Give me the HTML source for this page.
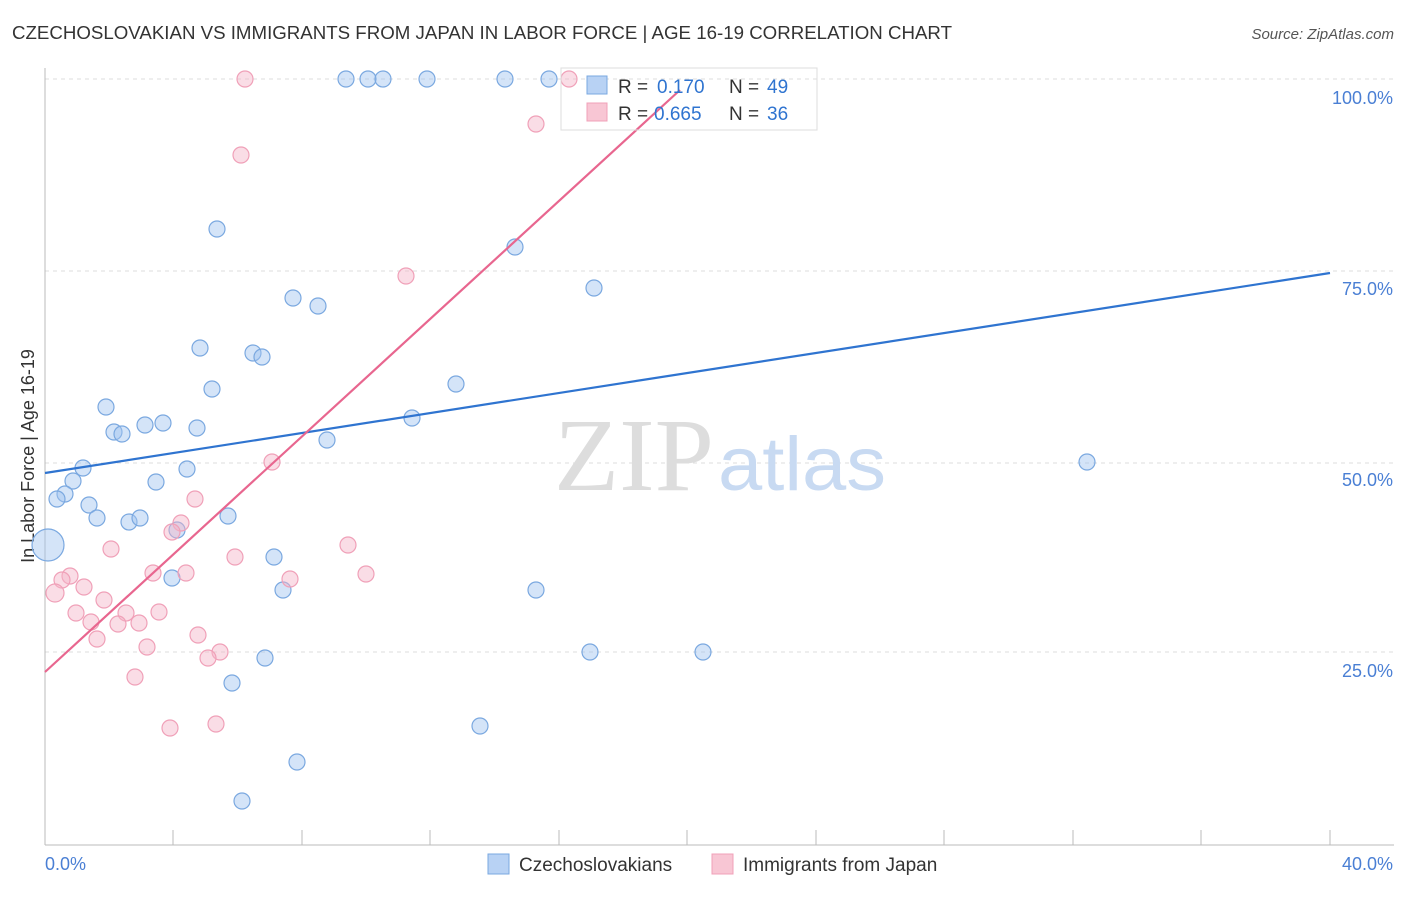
<!DOCTYPE html>
<html><head><meta charset="utf-8"><style>
body{margin:0;background:#fff;font-family:"Liberation Sans",sans-serif;}
</style></head><body>
<svg width="1406" height="892" viewBox="0 0 1406 892" xmlns="http://www.w3.org/2000/svg" font-family="Liberation Sans, sans-serif">
<text x="12" y="39" font-size="18" fill="#333" textLength="940" lengthAdjust="spacingAndGlyphs">CZECHOSLOVAKIAN VS IMMIGRANTS FROM JAPAN IN LABOR FORCE | AGE 16-19 CORRELATION CHART</text>
<text x="1394" y="39" font-size="15" fill="#555" font-style="italic" text-anchor="end">Source: ZipAtlas.com</text>
<g stroke="#ddd" stroke-dasharray="4,4" stroke-width="1">
<line x1="45" y1="79" x2="1394" y2="79"/><line x1="45" y1="271" x2="1394" y2="271"/>
<line x1="45" y1="463" x2="1394" y2="463"/><line x1="45" y1="652" x2="1394" y2="652"/>
</g>
<line x1="45" y1="68" x2="45" y2="845" stroke="#bbb"/>
<line x1="45" y1="845" x2="1394" y2="845" stroke="#bbb"/>
<g stroke="#bbb">
<line x1="173" y1="830" x2="173" y2="845"/><line x1="302" y1="830" x2="302" y2="845"/><line x1="430" y1="830" x2="430" y2="845"/><line x1="559" y1="830" x2="559" y2="845"/><line x1="687" y1="830" x2="687" y2="845"/><line x1="816" y1="830" x2="816" y2="845"/><line x1="944" y1="830" x2="944" y2="845"/><line x1="1073" y1="830" x2="1073" y2="845"/><line x1="1201" y1="830" x2="1201" y2="845"/><line x1="1330" y1="830" x2="1330" y2="845"/>
</g>
<g font-size="18" fill="#4a7fd4" text-anchor="end">
<text x="1393" y="104">100.0%</text><text x="1393" y="295">75.0%</text><text x="1393" y="486">50.0%</text><text x="1393" y="677">25.0%</text>
<text x="1393" y="870">40.0%</text>
</g>
<text x="45" y="870" font-size="18" fill="#4a7fd4">0.0%</text>
<text transform="translate(34,456) rotate(-90)" font-size="18" fill="#333" text-anchor="middle">In Labor Force | Age 16-19</text>
<text x="554" y="490" font-size="104" fill="#ddd" font-family="Liberation Serif, serif" textLength="160" lengthAdjust="spacingAndGlyphs">ZIP</text>
<text x="718" y="490" font-size="76" fill="#c8daf2" textLength="168" lengthAdjust="spacingAndGlyphs">atlas</text>
<g fill="rgba(160,196,240,0.45)" stroke="#7aa8e0" stroke-width="1.2">
<circle cx="48" cy="545" r="16"/>
<circle cx="346" cy="79" r="8"/><circle cx="368" cy="79" r="8"/><circle cx="383" cy="79" r="8"/><circle cx="427" cy="79" r="8"/><circle cx="505" cy="79" r="8"/><circle cx="549" cy="79" r="8"/><circle cx="217" cy="229" r="8"/><circle cx="515" cy="247" r="8"/><circle cx="594" cy="288" r="8"/><circle cx="293" cy="298" r="8"/><circle cx="318" cy="306" r="8"/><circle cx="200" cy="348" r="8"/><circle cx="253" cy="353" r="8"/><circle cx="262" cy="357" r="8"/><circle cx="456" cy="384" r="8"/><circle cx="212" cy="389" r="8"/><circle cx="106" cy="407" r="8"/><circle cx="412" cy="418" r="8"/><circle cx="145" cy="425" r="8"/><circle cx="163" cy="423" r="8"/><circle cx="197" cy="428" r="8"/><circle cx="114" cy="432" r="8"/><circle cx="122" cy="434" r="8"/><circle cx="327" cy="440" r="8"/><circle cx="83" cy="468" r="8"/><circle cx="187" cy="469" r="8"/><circle cx="1087" cy="462" r="8"/><circle cx="73" cy="481" r="8"/><circle cx="156" cy="482" r="8"/><circle cx="65" cy="494" r="8"/><circle cx="57" cy="499" r="8"/><circle cx="89" cy="505" r="8"/><circle cx="97" cy="518" r="8"/><circle cx="129" cy="522" r="8"/><circle cx="140" cy="518" r="8"/><circle cx="228" cy="516" r="8"/><circle cx="177" cy="530" r="8"/><circle cx="274" cy="557" r="8"/><circle cx="172" cy="578" r="8"/><circle cx="283" cy="590" r="8"/><circle cx="536" cy="590" r="8"/><circle cx="590" cy="652" r="8"/><circle cx="703" cy="652" r="8"/><circle cx="265" cy="658" r="8"/><circle cx="232" cy="683" r="8"/><circle cx="480" cy="726" r="8"/><circle cx="297" cy="762" r="8"/><circle cx="242" cy="801" r="8"/>
</g>
<g fill="rgba(245,180,200,0.45)" stroke="#f0a0b8" stroke-width="1.2">
<circle cx="245" cy="79" r="8"/><circle cx="569" cy="79" r="8"/><circle cx="536" cy="124" r="8"/><circle cx="241" cy="155" r="8"/><circle cx="406" cy="276" r="8"/><circle cx="272" cy="462" r="8"/><circle cx="195" cy="499" r="8"/><circle cx="181" cy="523" r="8"/><circle cx="172" cy="532" r="8"/><circle cx="111" cy="549" r="8"/><circle cx="348" cy="545" r="8"/><circle cx="235" cy="557" r="8"/><circle cx="153" cy="573" r="8"/><circle cx="186" cy="573" r="8"/><circle cx="366" cy="574" r="8"/><circle cx="290" cy="579" r="8"/><circle cx="70" cy="576" r="8"/><circle cx="62" cy="580" r="8"/><circle cx="84" cy="587" r="8"/><circle cx="55" cy="593" r="9"/><circle cx="104" cy="600" r="8"/><circle cx="76" cy="613" r="8"/><circle cx="126" cy="613" r="8"/><circle cx="159" cy="612" r="8"/><circle cx="91" cy="622" r="8"/><circle cx="118" cy="624" r="8"/><circle cx="139" cy="623" r="8"/><circle cx="198" cy="635" r="8"/><circle cx="97" cy="639" r="8"/><circle cx="147" cy="647" r="8"/><circle cx="220" cy="652" r="8"/><circle cx="208" cy="658" r="8"/><circle cx="135" cy="677" r="8"/><circle cx="216" cy="724" r="8"/><circle cx="170" cy="728" r="8"/>
</g>
<line x1="45" y1="473" x2="1330" y2="273" stroke="#2f74d0" stroke-width="2.2"/>
<line x1="45" y1="672" x2="680" y2="90" stroke="#e8668f" stroke-width="2.2"/>
<rect x="561" y="68" width="256" height="62" fill="none" stroke="#ddd"/>
<rect x="587" y="76" width="20" height="18" fill="#b8d2f4" stroke="#7aa8e0"/>
<rect x="587" y="103" width="20" height="18" fill="#f8c6d4" stroke="#f0a0b8"/>
<g font-size="19" fill="#333">
<text x="618" y="93">R = </text><text x="657" y="93" fill="#2f74d0">0.170</text><text x="729" y="93">N = </text><text x="767" y="93" fill="#2f74d0">49</text>
<text x="618" y="120">R = </text><text x="654" y="120" fill="#2f74d0">0.665</text><text x="729" y="120">N = </text><text x="767" y="120" fill="#2f74d0">36</text>
</g>
<rect x="488" y="854" width="21" height="20" fill="#b8d2f4" stroke="#7aa8e0"/>
<text x="519" y="871" font-size="19" fill="#333">Czechoslovakians</text>
<rect x="712" y="854" width="21" height="20" fill="#f8c6d4" stroke="#f0a0b8"/>
<text x="743" y="871" font-size="19" fill="#333">Immigrants from Japan</text>
</svg>
</body></html>
